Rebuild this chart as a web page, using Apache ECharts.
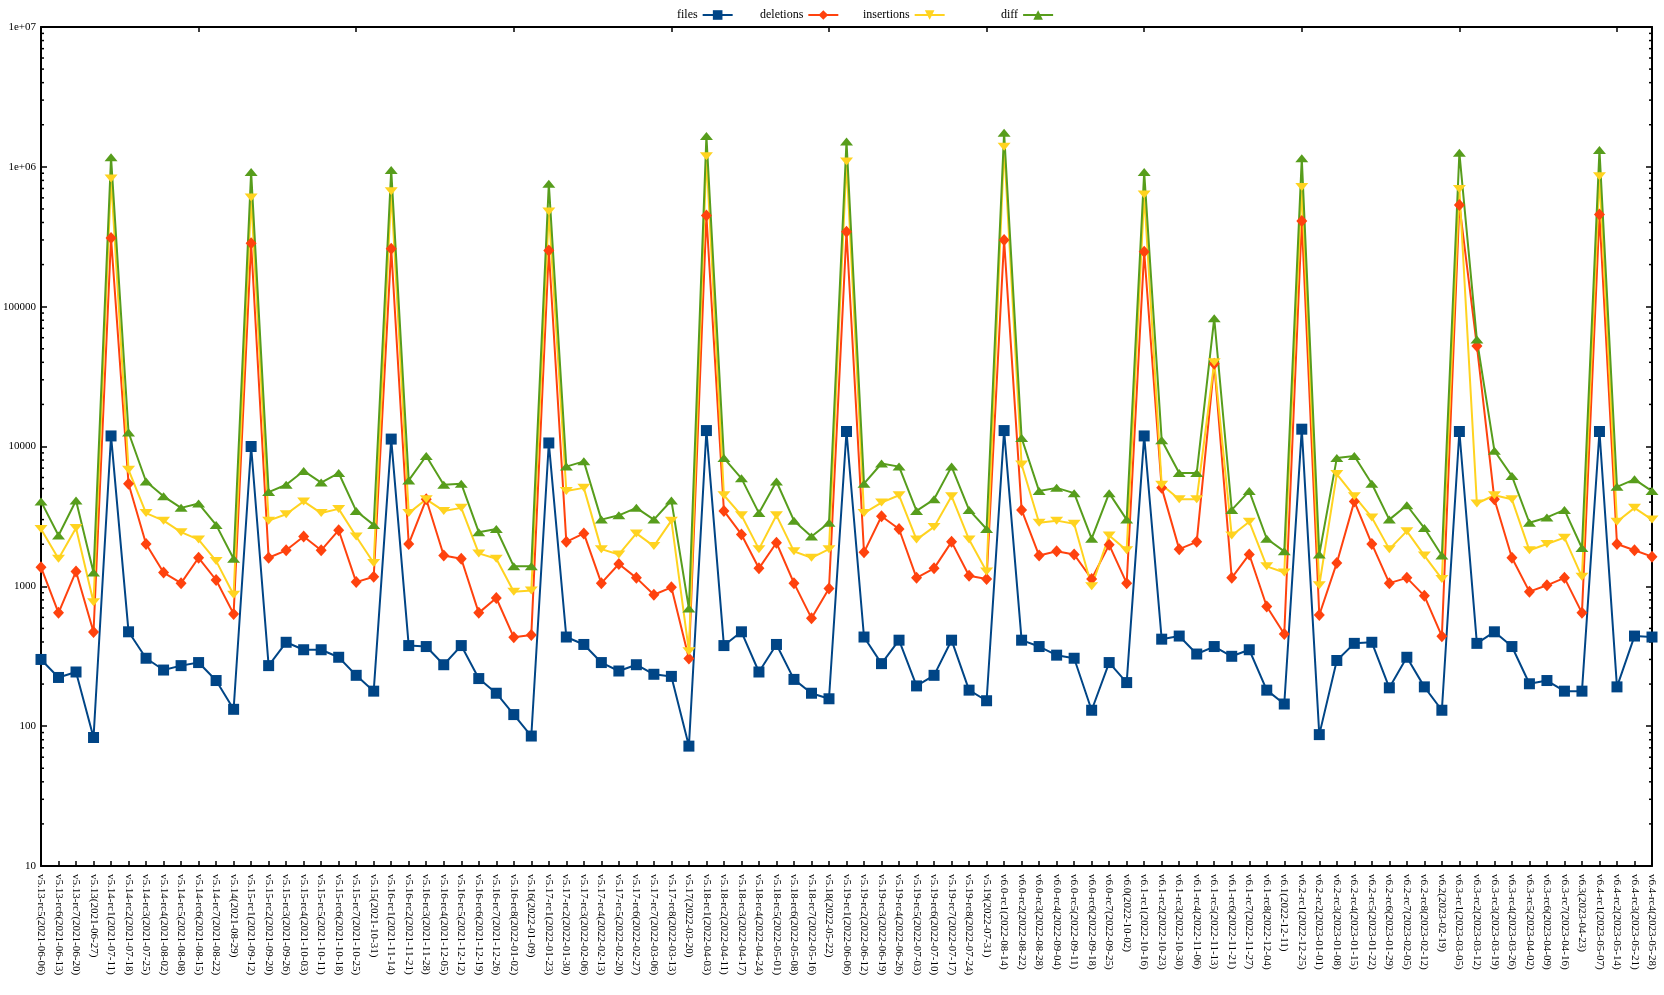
<!DOCTYPE html>
<html>
<head>
<meta charset="utf-8">
<script src="https://cdn.jsdelivr.net/npm/echarts@6/dist/echarts.min.js"></script>
<style>
html,body{margin:0;padding:0;background:#fff;}
#main{width:1664px;height:995px;}
</style>
</head>
<body>
<div id="main"></div>
<script>
const categories = [
"v5.13-rc5(2021-06-06)","v5.13-rc6(2021-06-13)","v5.13-rc7(2021-06-20)","v5.13(2021-06-27)",
"v5.14-rc1(2021-07-11)","v5.14-rc2(2021-07-18)","v5.14-rc3(2021-07-25)","v5.14-rc4(2021-08-02)",
"v5.14-rc5(2021-08-08)","v5.14-rc6(2021-08-15)","v5.14-rc7(2021-08-22)","v5.14(2021-08-29)",
"v5.15-rc1(2021-09-12)","v5.15-rc2(2021-09-20)","v5.15-rc3(2021-09-26)","v5.15-rc4(2021-10-03)",
"v5.15-rc5(2021-10-11)","v5.15-rc6(2021-10-18)","v5.15-rc7(2021-10-25)","v5.15(2021-10-31)",
"v5.16-rc1(2021-11-14)","v5.16-rc2(2021-11-21)","v5.16-rc3(2021-11-28)","v5.16-rc4(2021-12-05)",
"v5.16-rc5(2021-12-12)","v5.16-rc6(2021-12-19)","v5.16-rc7(2021-12-26)","v5.16-rc8(2022-01-02)",
"v5.16(2022-01-09)","v5.17-rc1(2022-01-23)","v5.17-rc2(2022-01-30)","v5.17-rc3(2022-02-06)",
"v5.17-rc4(2022-02-13)","v5.17-rc5(2022-02-20)","v5.17-rc6(2022-02-27)","v5.17-rc7(2022-03-06)",
"v5.17-rc8(2022-03-13)","v5.17(2022-03-20)","v5.18-rc1(2022-04-03)","v5.18-rc2(2022-04-11)",
"v5.18-rc3(2022-04-17)","v5.18-rc4(2022-04-24)","v5.18-rc5(2022-05-01)","v5.18-rc6(2022-05-08)",
"v5.18-rc7(2022-05-16)","v5.18(2022-05-22)","v5.19-rc1(2022-06-06)","v5.19-rc2(2022-06-12)",
"v5.19-rc3(2022-06-19)","v5.19-rc4(2022-06-26)","v5.19-rc5(2022-07-03)","v5.19-rc6(2022-07-10)",
"v5.19-rc7(2022-07-17)","v5.19-rc8(2022-07-24)","v5.19(2022-07-31)","v6.0-rc1(2022-08-14)",
"v6.0-rc2(2022-08-22)","v6.0-rc3(2022-08-28)","v6.0-rc4(2022-09-04)","v6.0-rc5(2022-09-11)",
"v6.0-rc6(2022-09-18)","v6.0-rc7(2022-09-25)","v6.0(2022-10-02)","v6.1-rc1(2022-10-16)",
"v6.1-rc2(2022-10-23)","v6.1-rc3(2022-10-30)","v6.1-rc4(2022-11-06)","v6.1-rc5(2022-11-13)",
"v6.1-rc6(2022-11-21)","v6.1-rc7(2022-11-27)","v6.1-rc8(2022-12-04)","v6.1(2022-12-11)",
"v6.2-rc1(2022-12-25)","v6.2-rc2(2023-01-01)","v6.2-rc3(2023-01-08)","v6.2-rc4(2023-01-15)",
"v6.2-rc5(2023-01-22)","v6.2-rc6(2023-01-29)","v6.2-rc7(2023-02-05)","v6.2-rc8(2023-02-12)",
"v6.2(2023-02-19)","v6.3-rc1(2023-03-05)","v6.3-rc2(2023-03-12)","v6.3-rc3(2023-03-19)",
"v6.3-rc4(2023-03-26)","v6.3-rc5(2023-04-02)","v6.3-rc6(2023-04-09)","v6.3-rc7(2023-04-16)",
"v6.3(2023-04-23)","v6.4-rc1(2023-05-07)","v6.4-rc2(2023-05-14)","v6.4-rc3(2023-05-21)",
"v6.4-rc4(2023-05-28)"
];

const files = [
300,223,244,83,11900,473,306,252,271,285,212,132,
10000,271,398,352,352,311,231,178,11300,377,371,275,
377,219,172,121,85,10600,434,384,285,248,275,235,
227,72,13000,377,473,244,384,216,172,157,12800,434,
280,412,194,231,412,181,152,13000,412,371,322,306,
130,285,205,11900,419,441,328,371,316,352,181,144,
13300,87,295,391,398,188,311,191,130,12800,391,473,
371,201,212,178,178,12800,191,441,434
];

const deletions = [
1370,646,1277,472,310000,5420,2010,1255,1054,1600,1110,635,
284000,1600,1810,2270,1810,2520,1072,1170,260000,2010,4190,1660,
1575,646,825,432,448,252000,2080,2390,1054,1445,1150,870,
984,305,448000,3460,2350,1345,2050,1054,592,966,344000,1750,
3170,2570,1150,1345,2080,1190,1130,300000,3520,1660,1780,1690,
1130,1980,1054,247000,5060,1845,2080,39000,1150,1690,718,456,
410000,624,1470,4050,2010,1054,1150,855,440,533000,52400,4190,
1600,916,1017,1150,646,456000,2010,1810,1630
];

const insertions = [
2570,1575,2610,770,826000,6810,3340,2950,2440,2160,1520,870,
603000,2950,3280,4050,3340,3580,2270,1470,669000,3340,4190,3460,
3640,1720,1575,916,933,480000,4800,5060,1845,1690,2390,1940,
2950,344,1190000,4480,3220,1845,3220,1780,1600,1845,1090000,3340,
3970,4480,2160,2660,4410,2160,1277,1390000,7430,2850,2950,2800,
1000,2310,1810,635000,5330,4190,4190,40000,2310,2900,1390,1255,
718000,1017,6350,4410,3110,1845,2480,1660,1130,693000,3910,4480,
4190,1810,2010,2230,1170,855000,2900,3640,3000
];

const diff = [
4050,2310,4110,1255,1170000,12600,5620,4400,3640,3910,2750,1575,
917000,4720,5330,6690,5520,6460,3460,2750,950000,5720,8550,5330,
5420,2440,2570,1390,1390,756000,7180,7830,3000,3220,3640,3000,
4110,693,1660000,8260,5920,3340,5620,2950,2270,2850,1520000,5420,
7560,7180,3460,4190,7180,3520,2570,1750000,11500,4800,5060,4640,
2190,4640,3000,917000,11100,6460,6460,82600,3520,4800,2190,1780,
1150000,1690,8260,8550,5420,3000,3800,2610,1660,1260000,58200,9330,
6140,2850,3110,3520,1880,1320000,5150,5820,4800
];

const seriesNames = ["files","deletions","insertions","diff"];
const seriesColors = ["#004586","#ff420e","#ffd320","#579d1c"];

const FONT = "'Liberation Serif','DejaVu Serif',serif";
const chart = echarts.init(document.getElementById('main'), null, {renderer:'canvas'});

function yFmt(v){
  const e = Math.round(Math.log10(v));
  if (e >= 6) return '1e+0' + e;
  return String(Math.round(v));
}

const axisLineStyle = {show:true, lineStyle:{color:'#000', width:2}};

const legendLefts = [672, 755, 858, 996];
const legends = seriesNames.map((n,i)=>({
  data:[n], left:legendLefts[i], top:4, align:'right', orient:'horizontal',
  itemWidth:30, itemHeight:12,
  textStyle:{fontFamily:FONT, fontSize:12, color:'#000'},
  selectedMode:false
}));

const option = {
  animation:false,
  backgroundColor:'#fff',
  legend: legends,
  grid:{left:40, right:12, top:27, bottom:129, containLabel:false},
  xAxis:[{
    type:'category', data:categories, boundaryGap:false, position:'bottom',
    axisLine:axisLineStyle,
    axisTick:{show:true, inside:true, length:5, lineStyle:{color:'#000', width:1.5}},
    axisLabel:{rotate:-90, interval:0, margin:8, fontFamily:FONT, fontSize:11, color:'#000'},
    splitLine:{show:false}
  },{
    type:'category', data:categories, boundaryGap:false, position:'top',
    axisLine:axisLineStyle,
    axisTick:{show:true, inside:true, length:5, lineStyle:{color:'#000', width:1.5}},
    axisLabel:{show:false}, splitLine:{show:false}
  }],
  yAxis:[{
    type:'log', logBase:10, min:10, max:10000000, position:'left',
    axisLine:axisLineStyle,
    axisTick:{show:true, inside:true, length:6, lineStyle:{color:'#000', width:1.5}},
    axisLabel:{formatter:yFmt, margin:5, fontFamily:FONT, fontSize:11, color:'#000'},
    splitLine:{show:false}
  },{
    type:'log', logBase:10, min:10, max:10000000, position:'right',
    axisLine:axisLineStyle,
    axisTick:{show:true, inside:true, length:6, lineStyle:{color:'#000', width:1.5}},
    axisLabel:{show:false}, splitLine:{show:false}
  }],
  series:[
    {name:'files', type:'line', data:files, color:seriesColors[0],
     symbol:'rect', symbolSize:11, lineStyle:{width:2}, itemStyle:{color:seriesColors[0]}},
    {name:'deletions', type:'line', data:deletions, color:seriesColors[1],
     symbol:'diamond', symbolSize:[11,12], lineStyle:{width:2}, itemStyle:{color:seriesColors[1]}},
    {name:'insertions', type:'line', data:insertions, color:seriesColors[2],
     symbol:'triangle', symbolRotate:180, symbolSize:[13,8], lineStyle:{width:2}, itemStyle:{color:seriesColors[2]}},
    {name:'diff', type:'line', data:diff, color:seriesColors[3],
     symbol:'triangle', symbolSize:[13,8], lineStyle:{width:2}, itemStyle:{color:seriesColors[3]}}
  ]
};
chart.setOption(option);

// minor ticks on the log axis (2..9 x 10^k), placed through the axis scale
const xl = chart.convertToPixel({xAxisIndex:0}, 0);
const xr = chart.convertToPixel({xAxisIndex:0}, categories.length - 1);
const minor = [];
for (let k = 1; k < 7; k++) {
  for (let m = 2; m <= 9; m++) {
    const y = chart.convertToPixel({yAxisIndex:0}, m * Math.pow(10, k));
    minor.push({type:'line', shape:{x1:xl, y1:y, x2:xl+3, y2:y}, style:{stroke:'#000', lineWidth:1.5}, silent:true});
    minor.push({type:'line', shape:{x1:xr, y1:y, x2:xr-3, y2:y}, style:{stroke:'#000', lineWidth:1.5}, silent:true});
  }
}
chart.setOption({graphic:{elements:minor}});
</script>
</body>
</html>
